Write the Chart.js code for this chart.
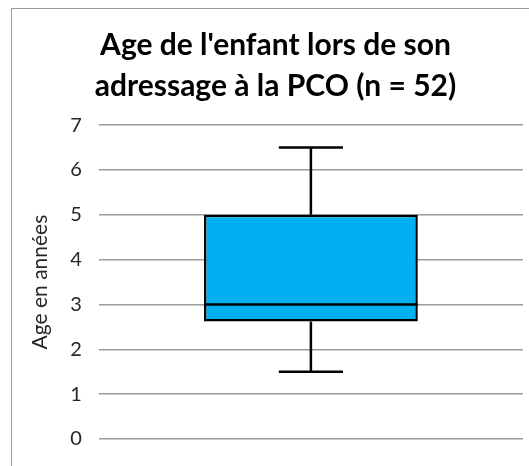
<!DOCTYPE html>
<html>
<head>
<meta charset="utf-8">
<script src="https://cdn.jsdelivr.net/npm/chart.js@4"></script>
<style>
    html, body { margin: 0; padding: 0; background: #fff; }
    #wrap { position: relative; width: 529px; height: 466px; }
    #frame {
        position: absolute; left: 11px; top: 8px; right: 0; bottom: 0;
        border-left: 1px solid #9a9a9a; border-top: 1px solid #9a9a9a;
        pointer-events: none;
    }
</style>
</head>
<body>
<div id="wrap">
    <canvas id="boxChart" width="529" height="466"></canvas>
    <div id="frame"></div>
</div>
<script>
// Box plot values (age in years)
const categories = [''];
const q1 = [2.62];
const q3 = [5];
const median = [3];
const whiskerLow = [1.5];
const whiskerHigh = [6.5];
const yTicks = [0, 1, 2, 3, 4, 5, 6, 7];

const titleLines = ["Age de l'enfant lors de son", 'adressage à la PCO (n = 52)'];

// whiskers + median drawn from the scales
const boxExtras = {
    id: 'boxExtras',
    afterDatasetsDraw(chart) {
        const ctx = chart.ctx;
        const y = chart.scales.y;
        const meta = chart.getDatasetMeta(0);
        meta.data.forEach((bar, i) => {
            const cx = bar.x;
            const half = bar.width / 2;
            const cap = bar.width * 0.15;
            const yTop = y.getPixelForValue(q3[i]);
            const yBot = y.getPixelForValue(q1[i]);
            const yHi = y.getPixelForValue(whiskerHigh[i]);
            const yLo = y.getPixelForValue(whiskerLow[i]);
            const yMed = y.getPixelForValue(median[i]);
            ctx.save();
            ctx.strokeStyle = '#000';
            ctx.lineWidth = 2.5;
            ctx.beginPath();
            ctx.moveTo(cx, yTop); ctx.lineTo(cx, yHi);
            ctx.moveTo(cx - cap, yHi); ctx.lineTo(cx + cap, yHi);
            ctx.moveTo(cx, yBot); ctx.lineTo(cx, yLo);
            ctx.moveTo(cx - cap, yLo); ctx.lineTo(cx + cap, yLo);
            ctx.moveTo(cx - half, yMed); ctx.lineTo(cx + half, yMed);
            ctx.stroke();
            ctx.restore();
        });
    }
};

new Chart(document.getElementById('boxChart'), {
    type: 'bar',
    data: {
        labels: categories,
        datasets: [{
            data: categories.map((c, i) => [q1[i], q3[i]]),
            backgroundColor: '#00b0f0',
            borderColor: '#000',
            borderWidth: 2.5,
            borderSkipped: false,
            categoryPercentage: 1,
            barPercentage: 0.504
        }]
    },
    options: {
        responsive: false,
        animation: false,
        layout: { padding: { top: 25, right: 6, bottom: 8, left: 28 } },
        plugins: {
            legend: { display: false },
            tooltip: { enabled: false },
            title: {
                display: true,
                text: titleLines,
                color: '#000',
                font: { family: 'Lato', size: 30, weight: 'bold', lineHeight: 1.37 },
                padding: { top: 0, bottom: 18 }
            }
        },
        scales: {
            x: { display: false },
            y: {
                min: 0,
                max: 7,
                afterBuildTicks: (axis) => { axis.ticks = yTicks.map(v => ({ value: v })); },
                grid: { color: '#9a9a9a', lineWidth: 1.5, drawTicks: false },
                border: { display: false },
                ticks: {
                    color: '#262626',
                    padding: 17,
                    font: { family: 'Lato', size: 20, lineHeight: 1 }
                },
                title: {
                    display: true,
                    text: 'Age en années',
                    color: '#262626',
                    padding: { top: 0, bottom: 0 },
                    font: { family: 'Lato', size: 21 }
                }
            }
        }
    },
    plugins: [boxExtras]
});
</script>
</body>
</html>
